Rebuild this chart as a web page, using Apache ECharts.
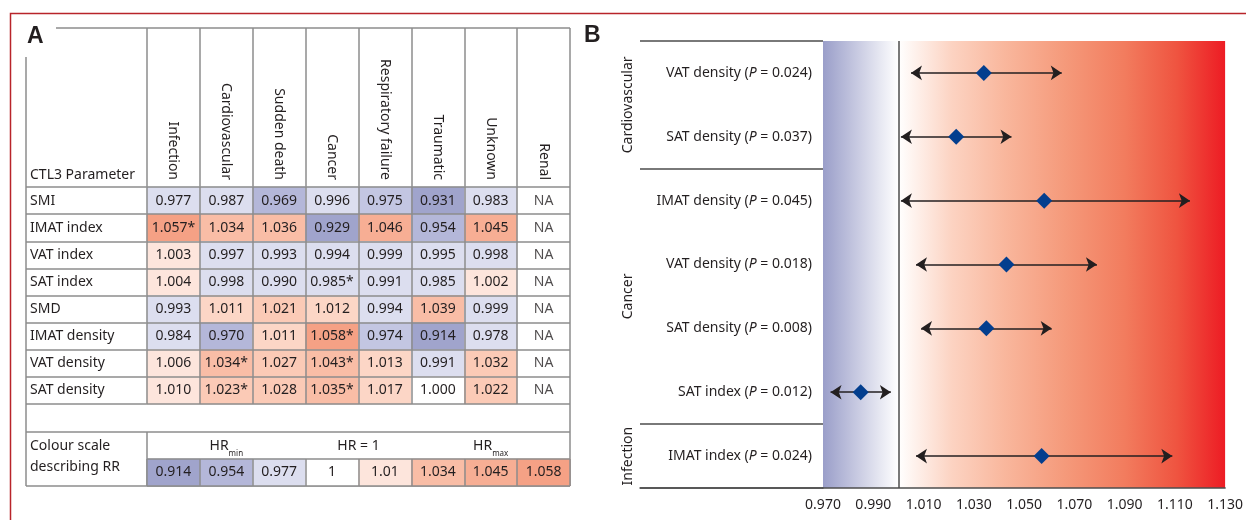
<!DOCTYPE html>
<html>
<head>
<meta charset="utf-8">
<script src="https://cdn.jsdelivr.net/npm/echarts@6/dist/echarts.min.js"></script>
<style>
  html, body { margin: 0; padding: 0; background: #fff; }
  #main { width: 1246px; height: 520px; }
</style>
</head>
<body>
<div id="main"></div>
<script>
// ---- panel A: HR per CTL3 parameter (rows) and cause of death (columns)
const causes = ['Infection', 'Cardiovascular', 'Sudden death', 'Cancer', 'Respiratory failure', 'Traumatic', 'Unknown', 'Renal'];
const params = ['SMI', 'IMAT index', 'VAT index', 'SAT index', 'SMD', 'IMAT density', 'VAT density', 'SAT density'];
const infection = [0.977, 1.057, 1.003, 1.004, 0.993, 0.984, 1.006, 1.010];
const cardiovascular = [0.987, 1.034, 0.997, 0.998, 1.011, 0.970, 1.034, 1.023];
const suddenDeath = [0.969, 1.036, 0.993, 0.990, 1.021, 1.011, 1.027, 1.028];
const cancer = [0.996, 0.929, 0.994, 0.985, 1.012, 1.058, 1.043, 1.035];
const respiratory = [0.975, 1.046, 0.999, 0.991, 0.994, 0.974, 1.013, 1.017];
const traumatic = [0.931, 0.954, 0.995, 0.985, 1.039, 0.914, 0.991, 1.000];
const unknown = [0.983, 1.045, 0.998, 1.002, 0.999, 0.978, 1.032, 1.022];
const renal = ['NA', 'NA', 'NA', 'NA', 'NA', 'NA', 'NA', 'NA'];
// cells marked with *
const significant = [
  ['Infection', 'IMAT index'], ['Cancer', 'SAT index'], ['Cancer', 'IMAT density'],
  ['Cardiovascular', 'VAT density'], ['Cancer', 'VAT density'],
  ['Cardiovascular', 'SAT density'], ['Cancer', 'SAT density']
];
const scaleValues = [0.914, 0.954, 0.977, 1, 1.01, 1.034, 1.045, 1.058];

// ---- panel B: forest plot
const forestRows = ['VAT density', 'SAT density', 'IMAT density', 'VAT density', 'SAT density', 'SAT index', 'IMAT index'];
const forestP = ['0.024', '0.037', '0.045', '0.018', '0.008', '0.012', '0.024'];
const groupNames = ['Cardiovascular', 'Cancer', 'Infection'];
const forestGroup = [0, 0, 1, 1, 1, 1, 2];
const forestHR = [1.034, 1.023, 1.058, 1.043, 1.035, 0.985, 1.057];
const forestLow = [1.005, 1.001, 1.001, 1.007, 1.009, 0.973, 1.007];
const forestHigh = [1.065, 1.045, 1.116, 1.079, 1.061, 0.997, 1.109];
const xTickLabels = ['0.970', '0.990', '1.010', '1.030', '1.050', '1.070', '1.090', '1.110', '1.130'];

const FONT = 'Noto Sans';
const FS = 14;
const TXT = '#231f20';
const GRID_LINE = { color: '#8c8c8c', width: 1.5 };
const DARK_LINE = { color: '#4d4d4d', width: 1.5 };

const columns = [infection, cardiovascular, suddenDeath, cancer, respiratory, traumatic, unknown, renal];
const heatData = [];
const naData = [];
columns.forEach((col, ci) => {
  col.forEach((v, ri) => {
    if (typeof v === 'number') heatData.push([ci, ri, v]);
    else naData.push([ci, ri, v]);
  });
});
const isSig = (ci, ri) => significant.some(s => s[0] === causes[ci] && s[1] === params[ri]);
const forestKeys = forestRows.map((r, i) => r + '_' + i);

const chart = echarts.init(document.getElementById('main'));

const seg = (x1, y1, x2, y2) => ({
  type: 'line', silent: true, z: 1,
  shape: { x1, y1, x2, y2 },
  style: { stroke: '#8c8c8c', lineWidth: 1.5 }
});
const txt = (x, y, text, extra) => ({
  type: 'text', silent: true, x, y,
  style: Object.assign({ text, fill: TXT, font: FS + 'px "' + FONT + '"', textVerticalAlign: 'middle' }, extra || {})
});
const subRich = {
  a: { fontSize: FS, fontFamily: FONT, lineHeight: 16, verticalAlign: 'middle', fill: TXT },
  s: { fontSize: 8, fontFamily: FONT, lineHeight: 23, verticalAlign: 'bottom', fill: TXT }
};

const baseGraphics = [
  { type: 'polyline', silent: true, shape: { points: [[10.5, 520], [10.5, 13.5], [1246, 13.5]] }, style: { stroke: '#b8242a', lineWidth: 1.5, fill: null } },
  txt(27, 37, 'A', { font: 'bold 23px "Liberation Sans"' }),
  txt(584, 36, 'B', { font: 'bold 23px "Liberation Sans"' }),
  seg(56, 28, 570, 28),
  seg(26, 57, 26, 486),
  seg(570, 404, 570, 486),
  seg(26, 432, 570, 432),
  seg(26, 486, 570, 486),
  seg(147, 432, 147, 486),
  txt(30, 175, 'CTL3 Parameter'),
  txt(30, 446, 'Colour scale'),
  txt(30, 467, 'describing RR')
];

const option = {
  animation: false,
  textStyle: { fontFamily: FONT, color: TXT },
  grid: [
    { left: 26, top: 187, width: 121, height: 217 },
    { left: 147, top: 187, width: 423, height: 217 },
    { left: 147, top: 28, width: 423, height: 159 },
    { left: 147, top: 459, width: 423, height: 27 },
    { left: 640, top: 41, width: 183, height: 447 },
    {
      left: 823, top: 41, width: 407, height: 447, show: true, borderWidth: 0,
      backgroundColor: new echarts.graphic.LinearGradient(0, 0, 1, 0, [
        { offset: 0, color: '#9a9ec9' },
        { offset: 0.1875, color: '#ffffff' },
        { offset: 0.32, color: '#fcd3c2' },
        { offset: 0.45, color: '#f9b79d' },
        { offset: 0.6, color: '#f59a7b' },
        { offset: 0.75, color: '#f27c5e' },
        { offset: 0.88, color: '#ef5440' },
        { offset: 1, color: '#ed1c24' }
      ])
    }
  ],
  xAxis: [
    { gridIndex: 0, type: 'value', show: false },
    {
      gridIndex: 1, type: 'category', data: causes, position: 'top', z: 5,
      axisLine: { show: false }, axisTick: { show: false },
      axisLabel: { rotate: 90, interval: 0, margin: 7, fontSize: FS, color: TXT, fontFamily: FONT },
      splitLine: { show: true, interval: 0, lineStyle: GRID_LINE }
    },
    {
      gridIndex: 2, type: 'category', data: causes,
      axisLine: { show: false }, axisTick: { show: false }, axisLabel: { show: false },
      splitLine: { show: true, interval: 0, lineStyle: GRID_LINE }
    },
    {
      gridIndex: 3, type: 'category', data: scaleValues.map(String), z: 5,
      axisLine: { show: false }, axisTick: { show: false }, axisLabel: { show: false },
      splitLine: { show: true, interval: 0, lineStyle: GRID_LINE }
    },
    {
      gridIndex: 4, type: 'value',
      axisLine: { show: true, lineStyle: DARK_LINE }, axisTick: { show: false },
      axisLabel: { show: false }, splitLine: { show: false }
    },
    {
      gridIndex: 5, type: 'value', min: 0.97, max: 1.13, interval: 0.01,
      axisLine: { show: true, lineStyle: DARK_LINE }, axisTick: { show: false },
      splitLine: { show: false },
      axisLabel: {
        margin: 10, fontSize: FS, color: TXT, fontFamily: FONT,
        formatter: v => (xTickLabels.includes(v.toFixed(3)) ? v.toFixed(3) : '')
      }
    }
  ],
  yAxis: [
    {
      gridIndex: 0, type: 'category', data: params, inverse: true,
      axisLine: { show: false }, axisTick: { show: false },
      axisLabel: { inside: true, margin: 4, fontSize: FS, color: TXT, fontFamily: FONT },
      splitLine: { show: true, interval: 0, lineStyle: GRID_LINE }
    },
    {
      gridIndex: 1, type: 'category', data: params, inverse: true, z: 5,
      axisLine: { show: false }, axisTick: { show: false }, axisLabel: { show: false },
      splitLine: { show: true, interval: 0, lineStyle: GRID_LINE }
    },
    { gridIndex: 2, type: 'value', show: false },
    {
      gridIndex: 3, type: 'category', data: ['scale'], z: 5,
      axisLine: { show: false }, axisTick: { show: false }, axisLabel: { show: false },
      splitLine: { show: true, interval: 0, lineStyle: GRID_LINE }
    },
    {
      gridIndex: 4, type: 'category', data: forestKeys, inverse: true,
      axisLine: { show: false }, axisTick: { show: false }, axisLabel: { show: false },
      splitLine: {
        show: true, lineStyle: DARK_LINE,
        interval: i => i === 0 || forestGroup[i] !== forestGroup[i - 1]
      }
    },
    {
      gridIndex: 5, type: 'category', data: forestKeys, inverse: true,
      axisLine: { show: false }, axisTick: { show: false }, splitLine: { show: false },
      axisLabel: {
        margin: 11, interval: 0,
        formatter: (v, i) => '{n|' + forestRows[i] + ' (}{i|P}{n| = ' + forestP[i] + ')}',
        rich: {
          n: { fontSize: FS, color: TXT, fontFamily: FONT },
          i: { fontSize: FS, color: TXT, fontFamily: FONT, fontStyle: 'italic' }
        }
      }
    }
  ],
  visualMap: {
    type: 'piecewise', show: false, seriesIndex: [0, 2], dimension: 2,
    pieces: [
      { lt: 0.94, color: '#a0a4cc' },
      { gte: 0.94, lt: 0.972, color: '#b4b7d9' },
      { gte: 0.972, lt: 0.977, color: '#c3c6e2' },
      { gte: 0.977, lt: 1, color: '#dcdeef' },
      { gte: 1, lte: 1, color: '#ffffff' },
      { gt: 1, lt: 1.011, color: '#fde5dc' },
      { gte: 1.011, lt: 1.02, color: '#fcd6c6' },
      { gte: 1.02, lt: 1.034, color: '#fbcab6' },
      { gte: 1.034, lt: 1.045, color: '#f9bda6' },
      { gte: 1.045, lt: 1.05, color: '#f7ae94' },
      { gte: 1.05, color: '#f5a185' }
    ]
  },
  series: [
    {
      type: 'heatmap', xAxisIndex: 1, yAxisIndex: 1, data: heatData, silent: true,
      label: {
        show: true, fontSize: FS, color: TXT, fontFamily: FONT,
        formatter: p => p.value[2].toFixed(3) + (isSig(p.value[0], p.value[1]) ? '*' : '')
      }
    },
    {
      type: 'scatter', xAxisIndex: 1, yAxisIndex: 1, data: naData, silent: true,
      symbolSize: 1, itemStyle: { color: 'rgba(0,0,0,0)' },
      label: { show: true, position: 'inside', fontSize: FS, color: TXT, fontFamily: FONT, formatter: p => p.value[2] }
    },
    {
      type: 'heatmap', xAxisIndex: 3, yAxisIndex: 3, silent: true,
      data: scaleValues.map((v, i) => [i, 0, v]),
      label: { show: true, fontSize: FS, color: TXT, fontFamily: FONT, formatter: p => String(p.value[2]) }
    },
    {
      type: 'lines', coordinateSystem: 'cartesian2d', xAxisIndex: 5, yAxisIndex: 5, silent: true,
      symbol: ['arrow', 'arrow'], symbolSize: 11,
      lineStyle: { color: TXT, width: 1.5, opacity: 1 },
      data: forestHR.map((v, i) => ({ coords: [[forestLow[i], i], [forestHigh[i], i]] }))
    },
    {
      type: 'scatter', xAxisIndex: 5, yAxisIndex: 5, silent: true, z: 4,
      symbol: 'diamond', symbolSize: 16, itemStyle: { color: '#033e8e', opacity: 1 },
      data: forestHR.map((v, i) => [v, i]),
      markLine: {
        silent: true, symbol: 'none', label: { show: false },
        lineStyle: { color: '#4d4d4d', width: 1.5, type: 'solid' },
        data: [{ xAxis: 1 }]
      }
    }
  ],
  graphic: baseGraphics
};

chart.setOption(option);

// labels placed from the axes' own scales
const extra = [];
const scaleX = i => chart.convertToPixel({ xAxisIndex: 3 }, i);
extra.push(txt((scaleX(0) + scaleX(2)) / 2, 446, '{a|HR}{s|min}', { textAlign: 'center', rich: subRich }));
extra.push(txt((scaleX(3) + scaleX(4)) / 2, 446, 'HR = 1', { textAlign: 'center' }));
extra.push(txt((scaleX(5) + scaleX(7)) / 2, 446, '{a|HR}{s|max}', { textAlign: 'center', rich: subRich }));

const rowY = i => chart.convertToPixel({ yAxisIndex: 4 }, forestKeys[i]);
groupNames.forEach((g, gi) => {
  const idx = forestGroup.map((v, i) => (v === gi ? i : -1)).filter(i => i >= 0);
  const y = (rowY(idx[0]) + rowY(idx[idx.length - 1])) / 2;
  extra.push({
    type: 'text', silent: true, x: 628, y, rotation: Math.PI / 2,
    style: { text: g, fill: TXT, font: FS + 'px "' + FONT + '"', textAlign: 'center', textVerticalAlign: 'middle' }
  });
});

chart.setOption({ graphic: baseGraphics.concat(extra) });
</script>
</body>
</html>
